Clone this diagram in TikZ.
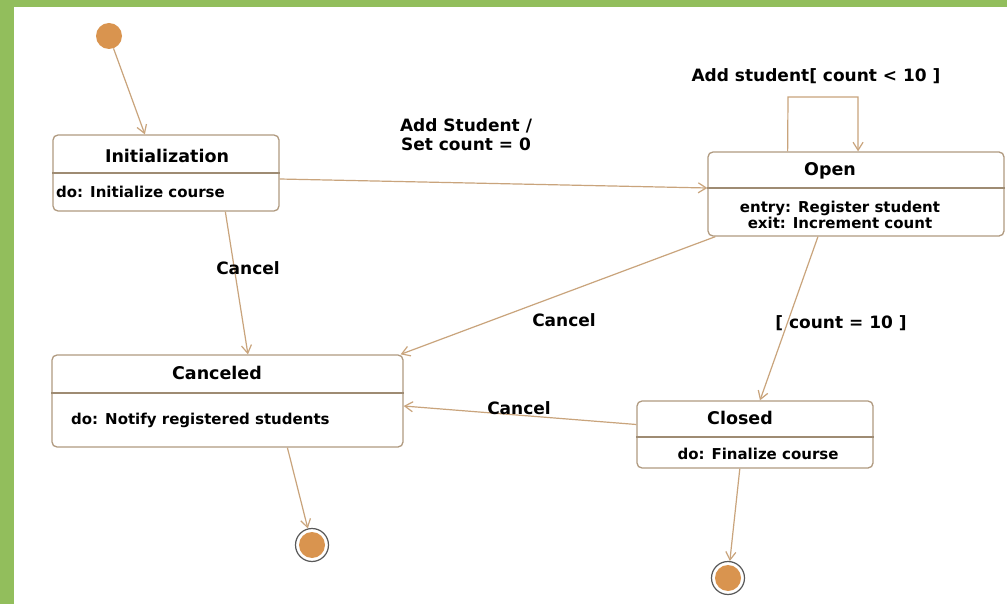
\documentclass[tikz,border=0pt]{standalone}
\usepackage{fontspec}
\setmainfont{DejaVu Sans}
\usetikzlibrary{arrows.meta,calc}
\definecolor{frame}{HTML}{92BE5C}
\definecolor{edge}{HTML}{C9A47C}
\definecolor{boxline}{HTML}{B09A80}
\definecolor{dot}{HTML}{D9944F}
\begin{document}
\begin{tikzpicture}[x=1pt,y=-1pt,
  statebox/.style={draw=boxline,line width=1.3pt,rounded corners=5pt,fill=white,inner sep=0pt},
  divider/.style={draw=boxline!90!black,line width=1.2pt},
  title/.style={font=\fontsize{17.5}{19}\selectfont\bfseries,inner sep=0pt},
  body/.style={font=\fontsize{15}{16}\selectfont\bfseries,inner sep=0pt,align=center},
  lbl/.style={font=\fontsize{17}{19}\selectfont\bfseries,inner sep=0pt,align=center},
  arr/.style={draw=edge,line width=1.2pt,-{Straight Barb[length=8pt,width=10pt,line width=1.2pt]}},
  initdot/.style={circle,fill=dot,minimum size=26pt,inner sep=0pt},
  finalring/.style={circle,draw=gray!70!black,line width=1.2pt,fill=white,minimum size=33pt,inner sep=0pt},
  finalcore/.style={circle,fill=dot,minimum size=26pt,inner sep=0pt}]

% page with green frame on the top and left
\useasboundingbox (0,0) rectangle (1007,604);
\fill[frame] (0,0) rectangle (1007,604);
\fill[white] (14,7) rectangle (1007,604);

% states
\node[initdot] (ini) at (109,36) {};

\node[statebox,minimum width=226pt,minimum height=76pt] (init) at (166,173) {};
\draw[divider] (init.west) -- (init.east);
\node[title] (initT) at (167,156) {Initialization};
\node[body,anchor=west] (initB) at (56,192) {do: Initialize course};

\node[statebox,minimum width=296pt,minimum height=84pt] (open) at (856,194) {};
\draw[divider] ($(open.west)+(0,-6)$) -- ($(open.east)+(0,-6)$);
\node[title] (openT) at (830,171) {Open};
\node[body] (openB) at (840,215) {entry: Register student\\exit: Increment count};

\node[statebox,minimum width=351pt,minimum height=92pt] (canc) at (227.5,401) {};
\draw[divider] ($(canc.west)+(0,-8)$) -- ($(canc.east)+(0,-8)$);
\node[title] (cancT) at (217,373) {Canceled};
\node[body,anchor=west] (cancB) at (71,420) {do: Notify registered students};

\node[statebox,minimum width=236pt,minimum height=67pt] (clos) at (755,434.5) {};
\draw[divider] ($(clos.west)+(0,2.5)$) -- ($(clos.east)+(0,2.5)$);
\node[title] (closT) at (740,418) {Closed};
\node[body] (closB) at (758,454) {do: Finalize course};

\node[finalring] (fin1) at (312,545) {};
\node[finalcore] at (fin1) {};
\node[finalring] (fin2) at (728,578) {};
\node[finalcore] at (fin2) {};

% transitions
\draw[arr] (ini) -- ($(init.north west)!0.407!(init.north east)$);
\draw[arr] ($(init.east)+(0,6)$) -- ($(open.west)+(0,-6)$);
\draw[arr] ($(init.south west)!0.761!(init.south east)$) -- ($(canc.north west)!0.558!(canc.north east)$);
\draw[arr] ($(open.south west)+(8,0)$) -- ($(canc.north east)+(-3,0)$);
\draw[arr] ($(open.south west)!0.372!(open.south east)$) -- ($(clos.north west)!0.521!(clos.north east)$);
\draw[arr] ($(clos.west)+(0,-10)$) -- ($(canc.east)+(0,5)$);
\draw[arr] ($(canc.south west)!0.67!(canc.south east)$) -- (fin1);
\draw[arr] ($(clos.south west)!0.436!(clos.south east)$) -- (fin2);
\coordinate (loopA) at (788,97);
\coordinate (loopB) at (858,97);
\draw[arr] ($(open.north west)!0.270!(open.north east)$) -- (loopA) -- (loopB) -- ($(open.north west)!0.507!(open.north east)$);

% transition labels
\node[lbl] (l1) at (816,76) {Add student[ count < 10 ]};
\node[lbl] (l2) at (466,135) {Add Student /\\Set count = 0};
\node[lbl] (l3) at (248,268) {Cancel};
\node[lbl] (l4) at (564,320) {Cancel};
\node[lbl] (l5) at (841,323) {[ count = 10 ]};
\node[lbl] (l6) at (519,408) {Cancel};
\end{tikzpicture}
\end{document}
